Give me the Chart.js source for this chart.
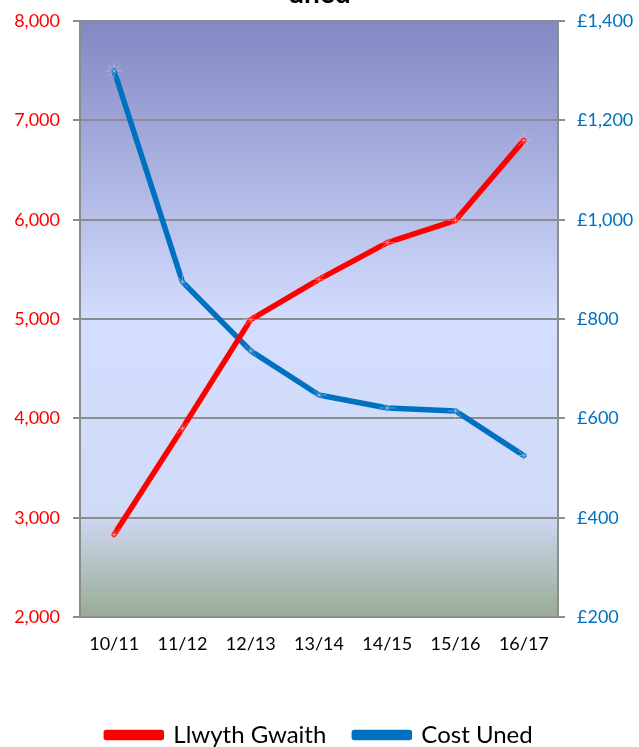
<!DOCTYPE html>
<html>
<head>
<meta charset="utf-8">
<script src="https://cdn.jsdelivr.net/npm/chart.js@4"></script>
<style>
  html, body { margin: 0; padding: 0; background: #fff; overflow: hidden; }
  .chart__wrap { position: relative; width: 639px; height: 747px; overflow: hidden; }
  #chart__1 { position: absolute; left: 0; top: -56px; }
</style>
</head>
<body>
<div class="chart__wrap">
  <canvas id="chart__1" width="639" height="813"></canvas>
</div>
<script>
"use strict";

// ** Data
const years = ["10/11", "11/12", "12/13", "13/14", "14/15", "15/16", "16/17"];
const workload = [2830, 3900, 4995, 5400, 5770, 5995, 6800];
const unitCost = [1300, 875, 736, 647, 621, 615, 525];
const seriesNames = ["Llwyth Gwaith", "Cost Uned"];
const titleLines = ["Llwyth Gwaith a Chost yr", "uned"];

const gridGrey = "#8c8c8c";
const fontFamily = "Lato, 'Open Sans', sans-serif";

function withCommas(v) {
  return String(v).replace(/\B(?=(\d{3})+(?!\d))/g, ",");
}

// ** Background of the plot area
const plotBg = {
  id: "plotBg",
  beforeDraw: (chart) => {
    const { ctx, chartArea } = chart;
    ctx.save();
    ctx.fillStyle = "#ffffff";
    ctx.fillRect(0, 0, chart.width, chart.height);
    const g = ctx.createLinearGradient(0, chartArea.top, 0, chartArea.bottom);
    g.addColorStop(0, "#8387c3");
    g.addColorStop(0.5, "#d3ddfe");
    g.addColorStop(0.82, "#d0dbf8");
    g.addColorStop(0.9, "#b9c6cc");
    g.addColorStop(1, "#98ab94");
    ctx.fillStyle = g;
    ctx.fillRect(chartArea.left, chartArea.top, chartArea.right - chartArea.left, chartArea.bottom - chartArea.top);
    ctx.restore();
  },
};

const config = {
  type: "line",
  data: {
    labels: years,
    datasets: [
      {
        label: seriesNames[0],
        data: workload,
        yAxisID: "y",
        borderColor: "#ff0000",
        backgroundColor: "#ff0000",
        borderWidth: 5.5,
        borderCapStyle: "round",
        borderJoinStyle: "round",
        pointStyle: "star",
        pointRadius: 8,
        pointBorderWidth: 1,
        pointBorderColor: "rgba(255, 190, 190, 0.5)",
        pointBackgroundColor: "transparent",
        tension: 0,
      },
      {
        label: seriesNames[1],
        data: unitCost,
        yAxisID: "y1",
        borderColor: "#0070c0",
        backgroundColor: "#0070c0",
        borderWidth: 5.5,
        borderCapStyle: "round",
        borderJoinStyle: "round",
        pointStyle: "star",
        pointRadius: 8,
        pointBorderWidth: 1,
        pointBorderColor: "rgba(200, 220, 245, 0.45)",
        pointBackgroundColor: "transparent",
        tension: 0,
      },
    ],
  },
  options: {
    responsive: false,
    animation: false,
    layout: { padding: 0 },
    plugins: {
      title: {
        display: true,
        text: titleLines,
        color: "#000",
        font: { family: fontFamily, size: 28, weight: "bold" },
        padding: { top: 0, bottom: 10 },
      },
      legend: {
        position: "bottom",
        labels: {
          color: "#000",
          font: { family: fontFamily, size: 24 },
          boxWidth: 55,
          boxHeight: 5,
          padding: 28,
        },
      },
      tooltip: { enabled: false },
    },
    scales: {
      x: {
        offset: true,
        grid: { display: false, drawTicks: false },
        border: { display: false },
        ticks: {
          color: "#000",
          font: { family: fontFamily, size: 18 },
          padding: 16,
          maxRotation: 0,
        },
        afterFit: (s) => { s.height = 78; },
      },
      y: {
        position: "left",
        min: 2000,
        max: 8000,
        ticks: {
          stepSize: 1000,
          color: "#ff0000",
          font: { family: fontFamily, size: 18 },
          padding: 13,
          callback: (v) => withCommas(v),
        },
        grid: { color: gridGrey, lineWidth: 2, tickLength: 7, tickColor: gridGrey },
        border: { color: gridGrey, width: 2 },
        afterFit: (s) => { s.width = 80; },
      },
      y1: {
        position: "right",
        min: 200,
        max: 1400,
        ticks: {
          stepSize: 200,
          color: "#0070c0",
          font: { family: fontFamily, size: 18 },
          padding: 12,
          callback: (v) => "£" + withCommas(v),
        },
        grid: { drawOnChartArea: false, lineWidth: 2, tickLength: 7, color: gridGrey },
        border: { color: gridGrey, width: 2 },
        afterFit: (s) => { s.width = 81; },
      },
    },
  },
  plugins: [plotBg],
};

const ctx = document.getElementById("chart__1").getContext("2d");
const chart = new Chart(ctx, config);
</script>
</body>
</html>
